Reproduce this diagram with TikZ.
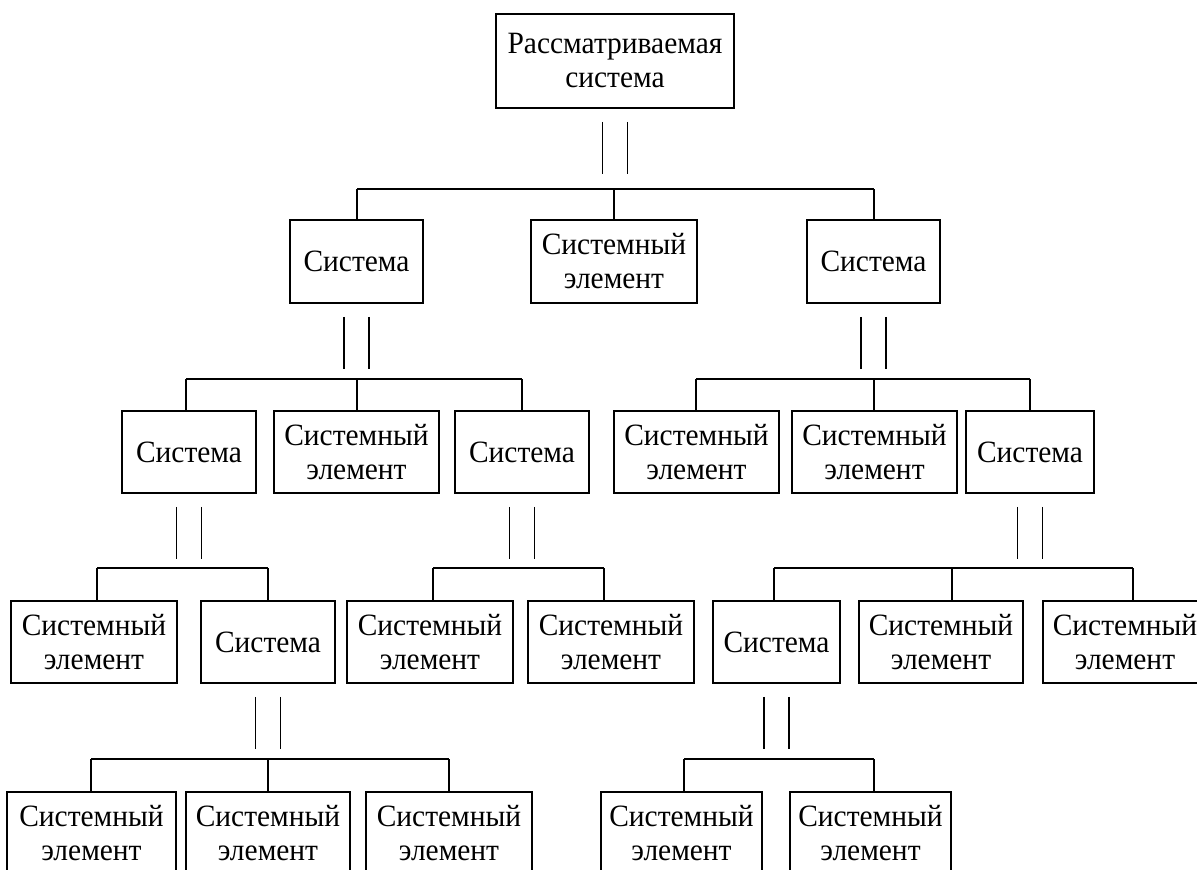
\documentclass[tikz,border=0pt]{standalone}
\usepackage{fontspec}
\setmainfont[FakeStretch=0.95]{Liberation Serif}
\begin{document}
\begin{tikzpicture}[x=1pt,y=-1pt,
  bx/.style={draw,line width=1.8pt,align=center,inner sep=0pt,
    font=\fontsize{31}{34}\selectfont},
  ln/.style={line width=1.8pt}]
\useasboundingbox (0,0) rectangle (1197,870);
\clip (0,0) rectangle (1197,870);
\fill[white] (0,0) rectangle (1197,870);
% level 0
\node[bx,minimum width=238pt,minimum height=94pt] (root) at (615,61) {Рассматриваемая\\система};
% level 1
\node[bx,minimum width=133pt,minimum height=83pt] (s1) at (356.5,261.5) {Система};
\node[bx,minimum width=166pt,minimum height=83pt] (e1) at (614,261.5) {Системный\\элемент};
\node[bx,minimum width=133pt,minimum height=83pt] (s2) at (873.5,261.5) {Система};
% level 2
\node[bx,minimum width=134pt,minimum height=82pt] (s11) at (189,452) {Система};
\node[bx,minimum width=165pt,minimum height=82pt] (e11) at (356.5,452) {Системный\\элемент};
\node[bx,minimum width=134pt,minimum height=82pt] (s12) at (522,452) {Система};
\node[bx,minimum width=165pt,minimum height=82pt] (e21) at (696.5,452) {Системный\\элемент};
\node[bx,minimum width=165pt,minimum height=82pt] (e22) at (874.5,452) {Системный\\элемент};
\node[bx,minimum width=128pt,minimum height=82pt] (s21) at (1030,452) {Система};
% level 3
\node[bx,minimum width=166pt,minimum height=82pt] (e111) at (94,642) {Системный\\элемент};
\node[bx,minimum width=134pt,minimum height=82pt] (s111) at (268,642) {Система};
\node[bx,minimum width=166pt,minimum height=82pt] (e121) at (430,642) {Системный\\элемент};
\node[bx,minimum width=166pt,minimum height=82pt] (e122) at (611,642) {Системный\\элемент};
\node[bx,minimum width=127pt,minimum height=82pt] (s211) at (776.5,642) {Система};
\node[bx,minimum width=164pt,minimum height=82pt] (e211) at (941,642) {Системный\\элемент};
\node[bx,minimum width=164pt,minimum height=82pt] (e212) at (1125,642) {Системный\\элемент};
% level 4
\node[bx,minimum width=169pt,minimum height=83pt] (e1111) at (91.5,833.5) {Системный\\элемент};
\node[bx,minimum width=164pt,minimum height=83pt] (e1112) at (268,833.5) {Системный\\элемент};
\node[bx,minimum width=166pt,minimum height=83pt] (e1113) at (449,833.5) {Системный\\элемент};
\node[bx,minimum width=161pt,minimum height=83pt] (e2111) at (681.5,833.5) {Системный\\элемент};
\node[bx,minimum width=161pt,minimum height=83pt] (e2112) at (870.5,833.5) {Системный\\элемент};
% double lines
\foreach \p in {root,s1,s2,s11,s12,s21,s111,s211}{
  \draw[ln] ([xshift=-12.5pt,yshift=-13pt]\p.south) -- ++(0,52);
  \draw[ln] ([xshift=12.5pt,yshift=-13pt]\p.south) -- ++(0,52);
}
% buses
\coordinate (b0l) at (357,189); \coordinate (b0m) at (614,189); \coordinate (b0r) at (874,189);
\draw[ln] (b0l) -- (b0r);
\draw[ln] (b0l) -- (b0l |- s1.north);
\draw[ln] (b0m) -- (b0m |- e1.north);
\draw[ln] (b0r) -- (b0r |- s2.north);
\coordinate (b1l) at (186,379); \coordinate (b1m) at (357,379); \coordinate (b1r) at (522,379);
\draw[ln] (b1l) -- (b1r);
\draw[ln] (b1l) -- (b1l |- s11.north);
\draw[ln] (b1m) -- (b1m |- e11.north);
\draw[ln] (b1r) -- (b1r |- s12.north);
\coordinate (b2l) at (696,379); \coordinate (b2m) at (874,379); \coordinate (b2r) at (1030,379);
\draw[ln] (b2l) -- (b2r);
\draw[ln] (b2l) -- (b2l |- e21.north);
\draw[ln] (b2m) -- (b2m |- e22.north);
\draw[ln] (b2r) -- (b2r |- s21.north);
\coordinate (b3l) at (97,568); \coordinate (b3r) at (268,568);
\draw[ln] (b3l) -- (b3r);
\draw[ln] (b3l) -- (b3l |- e111.north);
\draw[ln] (b3r) -- (b3r |- s111.north);
\coordinate (b4l) at (433,568); \coordinate (b4r) at (604,568);
\draw[ln] (b4l) -- (b4r);
\draw[ln] (b4l) -- (b4l |- e121.north);
\draw[ln] (b4r) -- (b4r |- e122.north);
\coordinate (b5l) at (774,568); \coordinate (b5m) at (952,568); \coordinate (b5r) at (1133,568);
\draw[ln] (b5l) -- (b5r);
\draw[ln] (b5l) -- (b5l |- s211.north);
\draw[ln] (b5m) -- (b5m |- e211.north);
\draw[ln] (b5r) -- (b5r |- e212.north);
\coordinate (b6l) at (91,759); \coordinate (b6m) at (268,759); \coordinate (b6r) at (449,759);
\draw[ln] (b6l) -- (b6r);
\draw[ln] (b6l) -- (b6l |- e1111.north);
\draw[ln] (b6m) -- (b6m |- e1112.north);
\draw[ln] (b6r) -- (b6r |- e1113.north);
\coordinate (b7l) at (684,759); \coordinate (b7r) at (874,759);
\draw[ln] (b7l) -- (b7r);
\draw[ln] (b7l) -- (b7l |- e2111.north);
\draw[ln] (b7r) -- (b7r |- e2112.north);
\end{tikzpicture}
\end{document}
